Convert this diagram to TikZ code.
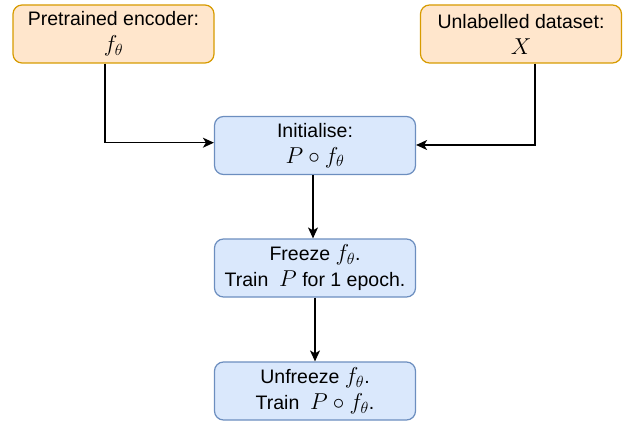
\RequirePackage{fix-cm}
\documentclass[tikz,border=0pt]{standalone}
\usepackage{fontspec}
\setmainfont{Liberation Sans}
\usetikzlibrary{arrows.meta}
\definecolor{ofill}{HTML}{FFE6CC}
\definecolor{odraw}{HTML}{D79B00}
\definecolor{bfill}{HTML}{DAE8FC}
\definecolor{bdraw}{HTML}{6C8EBF}
\newcommand\mth[1]{{\fontsize{23}{26}\selectfont$#1$}}
\begin{document}
\begin{tikzpicture}[x=1pt,y=-1pt,
  boxbase/.style={rounded corners=9pt, line width=1.2pt, minimum width=201pt, minimum height=58pt,
    align=center, inner sep=2pt, font=\fontsize{19.5}{26}\selectfont},
  obox/.style={boxbase, draw=odraw, fill=ofill},
  bbox/.style={boxbase, draw=bdraw, fill=bfill},
  arr/.style={line width=1.3pt, -{Stealth[length=11pt,width=10pt,inset=3pt]}}]
\useasboundingbox (0,0) rectangle (627,425);
\node[obox] (b1) at (113.5,34) {Pretrained encoder:\\\mth{f_\theta}};
\node[obox] (b2) at (521,34) {Unlabelled dataset:\\\mth{X}};
\node[bbox] (b3) at (315,145.5) {Initialise:\\\mth{P\circ f_\theta}};
\node[bbox] (b4) at (315,268) {Freeze \mth{f_\theta}.\\Train~ \mth{P} for 1 epoch.};
\node[bbox] (b5) at (315,391) {Unfreeze \mth{f_\theta}.\\Train~ \mth{P\circ f_\theta}.};
\draw[arr] ([xshift=-8.5pt]b1.south) |- ([yshift=2.8pt]b3.west);
\draw[arr] ([xshift=14pt]b2.south) |- ([yshift=0.5pt]b3.east);
\draw[arr] ([xshift=-2pt]b3.south) -- ([xshift=-2pt]b4.north);
\draw[arr] (b4.south) -- (b5.north);
\end{tikzpicture}
\end{document}
